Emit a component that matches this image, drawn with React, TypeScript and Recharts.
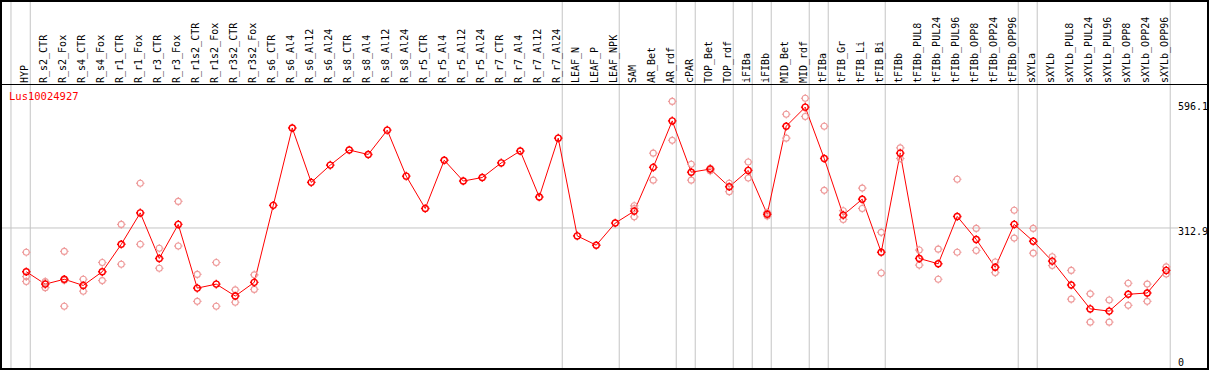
import { ComposedChart, Line, XAxis, YAxis, ReferenceLine } from 'recharts';

const categories = [
    'HYP', 'R_s2_CTR', 'R_s2_Fox', 'R_s4_CTR', 'R_s4_Fox', 'R_r1_CTR', 'R_r1_Fox', 'R_r3_CTR', 'R_r3_Fox',
    'R_r1s2_CTR', 'R_r1s2_Fox', 'R_r3s2_CTR', 'R_r3s2_Fox', 'R_s6_CTR', 'R_s6_Al4', 'R_s6_Al12', 'R_s6_Al24',
    'R_s8_CTR', 'R_s8_Al4', 'R_s8_Al12', 'R_s8_Al24', 'R_r5_CTR', 'R_r5_Al4', 'R_r5_Al12', 'R_r5_Al24',
    'R_r7_CTR', 'R_r7_Al4', 'R_r7_Al12', 'R_r7_Al24', 'LEAF_N', 'LEAF_P', 'LEAF_NPK', 'SAM', 'AR_Bet', 'AR_rdf',
    'cPAR', 'TOP_Bet', 'TOP_rdf', 'iFIBa', 'iFIBb', 'MID_Bet', 'MID_rdf', 'tFIBa', 'tFIB_Gr', 'tFIB_Li', 'tFIB_Bi',
    'tFIBb', 'tFIBb_PUL8', 'tFIBb_PUL24', 'tFIBb_PUL96', 'tFIBb_OPP8', 'tFIBb_OPP24', 'tFIBb_OPP96',
    'sXYLa', 'sXYLb', 'sXYLb_PUL8', 'sXYLb_PUL24', 'sXYLb_PUL96', 'sXYLb_OPP8', 'sXYLb_OPP24', 'sXYLb_OPP96',
];

// mean expression per sample
const meanValues = [
    214, 186, 197, 183, 214, 276, 347, 244, 321, 177, 186, 159, 190,
    364, 539, 416, 455, 489, 479, 534, 430, 357, 466, 419, 427, 460, 487, 383, 516,
    295, 274, 324,
    351, 450, 555, 439, 446, 406, 443, 344, 543, 586, 470, 342, 378, 258, 482,
    244, 232, 339, 287, 224, 321, 283, 238, 184, 130, 125, 163, 166, 217,
];

// replicates (pink circles)
const repHigh = [
    258, 192, 260, 197, 235, 321, 414, 267, 373, 208, 235, 173, 207,
    null, null, null, null, null, null, null, null, null, null, null, null, null, null, null, null,
    null, null, null,
    363, 482, 599, 457, 448, 414, 462, 348, 570, 606, 543, 352, 403, 303, 494,
    263, 265, 423, 312, 236, 353, 312, 248, 217, 164, 150, 188, 186, 225,
];
const repLow = [
    192, 178, 136, 170, 194, 231, 276, 222, 272, 147, 136, 145, 174,
    null, null, null, null, null, null, null, null, null, null, null, null, null, null, null, null,
    null, null, null,
    338, 421, 511, 421, 442, 395, 426, 340, 516, 565, 398, 332, 357, 211, 470,
    229, 197, 258, 262, 212, 290, 256, 228, 152, 100, 100, 138, 147, 209,
];
const repMid = [
    203, 189, 195, null, null, null, null, null, null, null, null, null, null,
    null, null, null, null, null, null, null, null, null, null, null, null, null, null, null, null,
    null, null, null,
    357, null, null, null, null, null, null, null, null, null, null, null, null, null, null,
    null, null, null, null, null, null, null, null, null, null, null, null, null, null,
];

const yTicks = [0, 312.9, 596.1];
const groupEnds = ['HYP', 'R_r7_Al24', 'LEAF_NPK', 'AR_rdf', 'cPAR', 'TOP_rdf', 'iFIBa', 'iFIBb',
    'MID_rdf', 'tFIBa', 'tFIB_Bi', 'tFIBb_OPP96', 'sXYLa', 'sXYLb_OPP96'];

const data = categories.map((name, idx) => ({
    idx, name,
    mean: meanValues[idx],
    r1: repHigh[idx],
    r2: repLow[idx],
    r3: repMid[idx],
}));

const FONT = '"DejaVu Sans Mono", monospace';
const RED = '#ff0000';
const PINK = '#ee9a9a';
const GRID = '#c4c4c4';

const Marker = (color: string, width: number) => (p: any) => {
    const { cx, cy, index } = p;
    if (cx == null || cy == null || isNaN(cy)) return <g key={index} />;
    const r = 3;
    return (
        <g key={index} stroke={color} strokeWidth={width} fill="none">
            <circle cx={cx} cy={cy} r={r} />
            <line x1={cx} y1={cy - r} x2={cx} y2={cy - r - 1.3} />
            <line x1={cx} y1={cy + r} x2={cx} y2={cy + r + 1.3} />
            <line x1={cx - r} y1={cy} x2={cx - r - 1.3} y2={cy} />
            <line x1={cx + r} y1={cy} x2={cx + r + 1.3} y2={cy} />
        </g>
    );
};

const XTick = ({ x, payload }: any) => (
    <text
        transform={`translate(${x - 1.5}, 83) rotate(-90)`}
        textAnchor="start"
        dominantBaseline="central"
        fontFamily={FONT}
        fontSize={10}
        fill="#000"
    >
        {categories[payload.value]}
    </text>
);

const YTick = ({ x, y, payload }: any) => (
    <text x={x} y={Math.min(y + 4, 362.5)} dominantBaseline="central" fontFamily={FONT} fontSize={10} fill="#000">
        {payload.value}
    </text>
);

const fullHeight = (p: any) => (
    <line x1={p.x1} x2={p.x2} y1={0} y2={370} stroke={GRID} strokeWidth={1} />
);

export default function App() {
    return (
        <div style={{ position: 'absolute', left: 0, top: 0, width: 1209, height: 370, background: '#fff' }}>
            <ComposedChart width={1209} height={370} data={data} margin={{ top: 0, right: 0, bottom: 1, left: 1 }}>
                <XAxis
                    xAxisId={0}
                    type="number"
                    dataKey="idx"
                    orientation="top"
                    domain={[-1.33, 60.62]}
                    ticks={categories.map((_, i) => i)}
                    interval={0}
                    height={85}
                    axisLine={false}
                    tickLine={false}
                    tickSize={0}
                    tick={<XTick />}
                    allowDataOverflow
                />
                <YAxis
                    yAxisId={0}
                    orientation="right"
                    type="number"
                    domain={[-5.88, 636.1]}
                    ticks={yTicks}
                    interval={0}
                    width={31}
                    axisLine={false}
                    tickLine={false}
                    tickSize={0}
                    tickMargin={0}
                    tick={<YTick />}
                    allowDataOverflow
                />
                <ReferenceLine y={312.9} stroke={GRID} strokeWidth={1} />
                <ReferenceLine x={-0.805} stroke={GRID} shape={fullHeight} />
                {groupEnds.map(g => (
                    <ReferenceLine key={g} x={categories.indexOf(g) + 0.21} stroke={GRID} shape={fullHeight} />
                ))}
                <Line dataKey="r1" stroke="none" dot={Marker(PINK, 1.1)} activeDot={false} isAnimationActive={false} />
                <Line dataKey="r2" stroke="none" dot={Marker(PINK, 1.1)} activeDot={false} isAnimationActive={false} />
                <Line dataKey="r3" stroke="none" dot={Marker(PINK, 1.1)} activeDot={false} isAnimationActive={false} />
                <Line
                    dataKey="mean"
                    type="linear"
                    stroke={RED}
                    strokeWidth={1}
                    dot={Marker(RED, 1.4)}
                    activeDot={false}
                    isAnimationActive={false}
                />
            </ComposedChart>
            <div style={{ position: 'absolute', left: 9, top: 90, fontFamily: FONT, fontSize: 10.5, color: RED, lineHeight: '13px' }}>
                Lus10024927
            </div>
            <div style={{ position: 'absolute', left: 0, top: 84, width: 1209, height: 1, background: '#000' }} />
            <div style={{ position: 'absolute', inset: 0, border: '2px solid #000', boxSizing: 'border-box', pointerEvents: 'none' }} />
        </div>
    );
}
